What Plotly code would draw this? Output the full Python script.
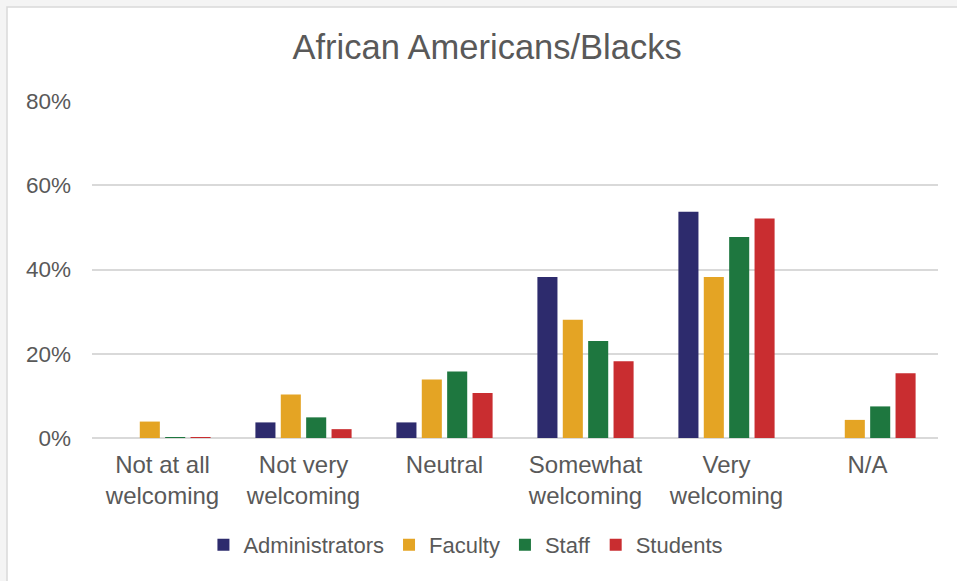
import plotly.graph_objects as go

categories = ["Not at all<br>welcoming", "Not very<br>welcoming", "Neutral",
              "Somewhat<br>welcoming", "Very<br>welcoming", "N/A"]
series_names = ["Administrators", "Faculty", "Staff", "Students"]
administrators = [0.0, 0.037, 0.037, 0.382, 0.537, 0.0]
faculty = [0.039, 0.103, 0.139, 0.281, 0.382, 0.043]
staff = [0.002, 0.049, 0.158, 0.230, 0.477, 0.075]
students = [0.002, 0.021, 0.107, 0.182, 0.521, 0.154]
colors = ["#2d2b6d", "#e4a424", "#1e773f", "#c92d30"]
y_ticks = [0, 0.2, 0.4, 0.6, 0.8]
y_tick_labels = ["0%", "20%", "40%", "60%", "80%"]

fig = go.Figure()
for name, vals, col in zip(series_names, [administrators, faculty, staff, students], colors):
    fig.add_trace(go.Bar(x=categories, y=vals, name=name, marker_color=col,
                         marker_line_width=0))

font_family = "Liberation Sans, Arial, sans-serif"
fig.update_layout(
    width=957, height=581,
    margin=dict(l=92, r=19, t=101, b=143),
    paper_bgcolor="#f4f4f4",
    plot_bgcolor="white",
    barmode="group",
    bargap=0.28,
    bargroupgap=0.21,
    font=dict(family=font_family, color="#595959", size=22),
    title=dict(text="African Americans/Blacks", x=0.509, xanchor="center",
               xref="container", y=1 - 47 / 581, yref="container", yanchor="middle",
               font=dict(size=34.5, color="#595959")),
    showlegend=True,
    legend=dict(orientation="h", x=0.442, xanchor="center", y=-0.317, yanchor="middle",
                font=dict(size=22, color="#595959"), bgcolor="rgba(0,0,0,0)",
                itemwidth=30, traceorder="normal"),
    shapes=[dict(type="rect", xref="paper", yref="paper",
                 x0=(7 - 92) / 846, x1=(965 - 92) / 846,
                 y0=(438 - 590) / 337, y1=(438 - 7) / 337,
                 fillcolor="white", line=dict(color="#d9d9d9", width=1.5),
                 layer="below")],
)
fig.update_xaxes(showgrid=False, showline=False, zeroline=False, ticks="",
                 ticklabelstandoff=10,
                 tickfont=dict(size=24, color="#595959"))
fig.update_yaxes(range=[0, 0.8], tickvals=y_ticks, ticktext=y_tick_labels,
                 showgrid=True, gridcolor="#d9d9d9", gridwidth=1.5,
                 zeroline=True, zerolinecolor="#d9d9d9", zerolinewidth=1.5,
                 showline=False, ticks="", ticklabelstandoff=20,
                 tickfont=dict(size=22.5, color="#595959"))

fig.write_html("out.html", config={"displayModeBar": False},
               post_script="document.body.style.margin='0px';")
